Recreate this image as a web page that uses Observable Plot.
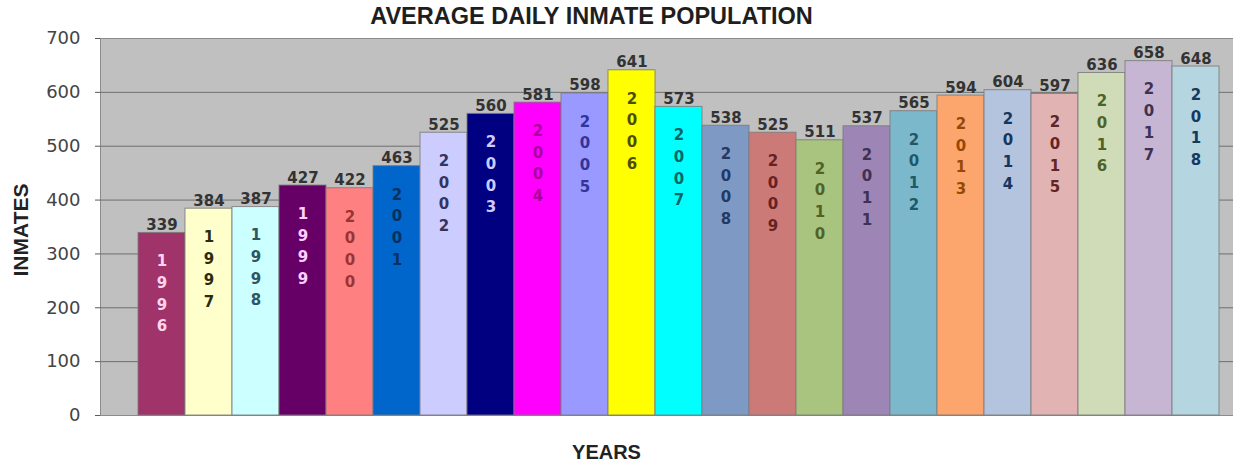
<!DOCTYPE html>
<html>
<head>
<meta charset="utf-8">
<script src="https://cdn.jsdelivr.net/npm/d3@7"></script>
<script src="https://cdn.jsdelivr.net/npm/@observablehq/plot@0.6"></script>
<style>
  body { margin: 0; background: #ffffff; }
  #title {
    box-sizing: border-box; width: 1233px; height: 31px;
    padding: 3px 50px 0 0; line-height: 28px; text-align: center;
    font: bold 23.5px "Liberation Sans", Arial, sans-serif; color: #1e1e1e;
    white-space: nowrap;
  }
</style>
</head>
<body>
<div id="title"></div>
<div id="chart"></div>
<script>
// ---- data ----
const chartTitle = "AVERAGE DAILY INMATE POPULATION";
const xLabel = "YEARS";
const yLabel = "INMATES";
const years = ["1996","1997","1998","1999","2000","2001","2002","2003","2004","2005","2006","2007",
               "2008","2009","2010","2011","2012","2013","2014","2015","2016","2017","2018"];
const inmates = [339,384,387,427,422,463,525,560,581,598,641,573,538,525,511,537,565,594,604,597,636,658,648];
const yTicks = [0,100,200,300,400,500,600,700];

// ---- styles (palette, per bar position) ----
const barColors = ["#a0336a","#ffffcc","#ccffff","#660066","#ff8080","#0066cc","#ccccff","#000080",
                   "#ff00ff","#9999ff","#ffff00","#00ffff","#7f99c5","#cc7a78","#a9c47f","#9d85b6",
                   "#7cb8cc","#fca66d","#b4c4de","#e2b3b3","#d0dcb8","#c6b6d4","#b5d5e0"];
const digitColors = ["#ffd6ee","#2b2b10","#2f5560","#ffd0ff","#9a3434","#06305e","#33335f","#ccccff",
                     "#aa0099","#333399","#4d4d00","#006666","#1f3a66","#662222","#4f6228","#3f3151",
                     "#215868","#974806","#17365d","#632523","#4f6228","#3f3151","#17375e"];

document.getElementById("title").textContent = chartTitle;

const data = years.map((year, i) => ({year, inmates: inmates[i], digits: year.split("").join("\n")}));

const chart = Plot.plot({
  width: 1233,
  height: 434,
  marginTop: 7,
  marginBottom: 50,
  marginLeft: 100,
  marginRight: 0,
  style: {background: "#ffffff", fontFamily: "DejaVu Sans, sans-serif", overflow: "visible"},
  x: {type: "band", domain: years, range: [135, 1222], padding: 0, axis: null},
  y: {domain: [0, 700], axis: null},
  marks: [
    Plot.frame({fill: "#c0c0c0", stroke: "#8c8c8c"}),
    Plot.ruleY(yTicks.filter(t => t > 0 && t < 700), {stroke: "#6e6e6e", strokeWidth: 1}),
    Plot.axisY(yTicks, {
      tickSize: 5, tickPadding: 15, label: null,
      fontSize: 18, fontFamily: "DejaVu Sans", stroke: "#5a5a5a", fill: "#444444"
    }),
    Plot.barY(data, {
      x: "year", y: "inmates",
      fill: (d, i) => barColors[i],
      stroke: "#7a7a7a", strokeWidth: 1, strokeOpacity: 0.85
    }),
    Plot.text(data, {
      x: "year", y: "inmates", text: d => String(d.inmates),
      lineAnchor: "bottom", dy: -3,
      fontFamily: "DejaVu Sans", fontWeight: "bold", fontSize: 15, fill: "#333333"
    }),
    Plot.text(data, {
      x: "year", y: "inmates", text: "digits",
      lineAnchor: "top", dy: 18, lineHeight: 1.445,
      fontFamily: "DejaVu Sans", fontWeight: "bold", fontSize: 15,
      fill: (d, i) => digitColors[i]
    }),
    Plot.text([yLabel], {
      frameAnchor: "left", dx: -79.5, dy: 3, rotate: -90,
      textAnchor: "middle", lineAnchor: "middle",
      fontFamily: "Liberation Sans", fontWeight: "bold", fontSize: 21, fill: "#222222"
    }),
    Plot.text([xLabel], {
      frameAnchor: "bottom", dx: -60.5, dy: 37.5,
      textAnchor: "middle", lineAnchor: "middle",
      fontFamily: "Liberation Sans", fontWeight: "bold", fontSize: 20, fill: "#222222"
    })
  ]
});

document.getElementById("chart").appendChild(chart);
</script>
</body>
</html>
